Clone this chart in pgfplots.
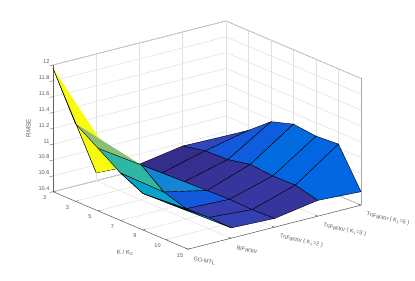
\documentclass[border=0pt]{standalone}
\usepackage{fontspec}
\setmainfont{Liberation Sans}
\usepackage{pgfplots}
\pgfplotsset{compat=1.18}
\definecolor{gridc}{gray}{0.88}
\definecolor{boxc}{gray}{0.38}
\definecolor{txtc}{gray}{0.35}
\definecolor{pyellow}{rgb}{0.9763,0.9831,0.0538}
\definecolor{pgreen}{rgb}{0.54,0.749,0.46}
\definecolor{pteal}{rgb}{0.18,0.718,0.64}
\pgfplotsset{colormap={oldparula}{
rgb=(0.2081,0.1663,0.5292) rgb=(0.2116,0.1898,0.5777) rgb=(0.2123,0.2138,0.6270) rgb=(0.2081,0.2386,0.6771)
rgb=(0.1959,0.2645,0.7279) rgb=(0.1707,0.2919,0.7792) rgb=(0.1253,0.3242,0.8303) rgb=(0.0591,0.3598,0.8683)
rgb=(0.0117,0.3875,0.8820) rgb=(0.0060,0.4086,0.8828) rgb=(0.0165,0.4266,0.8786) rgb=(0.0329,0.4430,0.8720)
rgb=(0.0498,0.4586,0.8641) rgb=(0.0629,0.4737,0.8554) rgb=(0.0723,0.4887,0.8467) rgb=(0.0779,0.5040,0.8384)
rgb=(0.0793,0.5200,0.8312) rgb=(0.0749,0.5375,0.8263) rgb=(0.0641,0.5570,0.8240) rgb=(0.0488,0.5772,0.8228)
rgb=(0.0343,0.5966,0.8199) rgb=(0.0265,0.6137,0.8135) rgb=(0.0239,0.6287,0.8038) rgb=(0.0231,0.6418,0.7913)
rgb=(0.0228,0.6535,0.7768) rgb=(0.0267,0.6642,0.7607) rgb=(0.0384,0.6743,0.7436) rgb=(0.0590,0.6838,0.7254)
rgb=(0.0843,0.6928,0.7062) rgb=(0.1133,0.7015,0.6859) rgb=(0.1453,0.7098,0.6646) rgb=(0.1801,0.7177,0.6424)
rgb=(0.2178,0.7250,0.6193) rgb=(0.2586,0.7317,0.5954) rgb=(0.3022,0.7376,0.5712) rgb=(0.3482,0.7424,0.5473)
rgb=(0.3953,0.7459,0.5244) rgb=(0.4420,0.7481,0.5033) rgb=(0.4871,0.7491,0.4840) rgb=(0.5300,0.7491,0.4661)
rgb=(0.5709,0.7485,0.4494) rgb=(0.6099,0.7473,0.4337) rgb=(0.6473,0.7456,0.4188) rgb=(0.6834,0.7435,0.4044)
rgb=(0.7184,0.7411,0.3905) rgb=(0.7525,0.7384,0.3768) rgb=(0.7858,0.7356,0.3633) rgb=(0.8185,0.7327,0.3498)
rgb=(0.8507,0.7299,0.3360) rgb=(0.8824,0.7274,0.3217) rgb=(0.9139,0.7258,0.3063) rgb=(0.9450,0.7261,0.2886)
rgb=(0.9739,0.7314,0.2666) rgb=(0.9938,0.7455,0.2403) rgb=(0.9990,0.7653,0.2164) rgb=(0.9955,0.7861,0.1967)
rgb=(0.9880,0.8066,0.1794) rgb=(0.9789,0.8271,0.1633) rgb=(0.9697,0.8481,0.1475) rgb=(0.9626,0.8705,0.1309)
rgb=(0.9589,0.8949,0.1132) rgb=(0.9598,0.9218,0.0948) rgb=(0.9661,0.9514,0.0755) rgb=(0.9763,0.9831,0.0538)
}}
\begin{document}
\begin{tikzpicture}
\begin{axis}[
  x={(22.5pt,-9.58pt)}, y={(43.25pt,11pt)}, z={(0pt,79.2pt)},
  xmin=1, xmax=7, ymin=1, ymax=5, zmin=10.4, zmax=12,
  xtick={1,2,3,4,5,6,7},
  xticklabels={2,3,5,7,9,10,15},
  ytick={1,2,3,4,5},
  yticklabels={GO-MTL,BiFactor,TriFactor ( K\textsubscript{1}=2 ),TriFactor ( K\textsubscript{1}=3 ),TriFactor ( K\textsubscript{1}=5 )},
  ztick={10.4,10.6,10.8,11,11.2,11.4,11.6,11.8,12},
  zticklabel style={/pgf/number format/fixed,/pgf/number format/assume math mode=true,yshift=2.5pt},
  xtick pos=left, ytick pos=left, ztick pos=left,
  grid=major,
  major grid style={gridc,line width=0.5pt},
  axis line style={boxc,line width=0.5pt},
  major tick length=0pt,
  tick align=inside,
  ztick align=outside,
  ticklabel style={font=\fontsize{5.6}{6.5}\selectfont,text=txtc},
  xticklabel style={anchor=center,xshift=-8pt,yshift=-6pt},
  yticklabel style={rotate=-12,anchor=west,xshift=4pt,yshift=-8pt},
  xlabel={K / K\textsubscript{2}}, ylabel={}, zlabel={RMSE},
  every axis x label/.style={at={(axis cs:6.157,-0.018,10.4)},anchor=center,font=\fontsize{6.2}{7}\selectfont,text=txtc},
  every axis z label/.style={at={(axis cs:1,0.434,11.28)},anchor=center,rotate=90,font=\fontsize{6.2}{7}\selectfont,text=txtc},
  colormap name=oldparula,
  point meta min=10.46, point meta max=11.96,
  clip=false,
]
\addplot3[surf, shader=flat corner, draw=black, line width=0.4pt, z buffer=sort, mesh/cols=7]
table[x=x,y=y,z=z,meta=m] {
x y z m
1 1 11.96 11.96
2 1 11.38 11.38
3 1 11.19 11.19
4 1 11.00 11.00
5 1 10.86 10.86
6 1 10.87 11.00
7 1 10.88 10.88

1 2 10.50 10.50
2 2 10.68 10.68
3 2 10.84 10.84
4 2 10.62 10.59
5 2 10.53 10.52
6 2 10.54 10.54
7 2 10.53 10.53

1 3 10.47 10.47
2 3 10.48 10.48
3 3 10.49 10.49
4 3 10.50 10.50
5 3 10.51 10.51
6 3 10.50 10.50
7 3 10.51 10.51

1 4 10.56 10.56
2 4 10.62 10.59
3 4 10.63 10.595
4 4 10.69 10.69
5 4 10.665 10.665
6 4 10.67 10.67
7 4 10.60 10.60

1 5 10.55 10.55
2 5 10.74 10.74
3 5 10.97 10.97
4 5 11.06 11.06
5 5 11.03 11.03
6 5 11.05 11.05
7 5 10.57 10.57
};
% the left-hand folded facets, split into triangles and stacked in the order seen
\addplot3[fill=pyellow, draw=none] coordinates {(1,1,11.96)(2,2,10.68)(1,2,10.50)} --cycle;
\addplot3[fill=pgreen, draw=none] coordinates {(2,1,11.38)(3,2,10.84)(3,1,11.19)} --cycle;
\addplot3[fill=pteal, draw=none] coordinates {(3,1,11.19)(4,1,11.00)(4,2,10.62)(3,2,10.84)} --cycle;
\addplot3[black, line width=0.4pt] coordinates {(1,2,10.50)(1,1,11.96)(2,1,11.38)(3,1,11.19)(4,1,11.00)(5,1,10.86)};
\addplot3[black, line width=0.4pt] coordinates {(3,1,11.19)(3,2,10.84)(4,2,10.62)(4,1,11.00)};
\addplot3[gray!70, line width=0.8pt] coordinates {(7,5,10.4)(7,5,12)};
% tick marks on the three labelled axis edges only
\addplot3[boxc, line width=0.4pt, empty line=jump] table {
1 1 10.4
1 1.06 10.4

2 1 10.4
2 1.06 10.4

3 1 10.4
3 1.06 10.4

4 1 10.4
4 1.06 10.4

5 1 10.4
5 1.06 10.4

6 1 10.4
6 1.06 10.4

7 1 10.4
7 1.06 10.4

7 1 10.4
6.88 1 10.4

7 2 10.4
6.88 2 10.4

7 3 10.4
6.88 3 10.4

7 4 10.4
6.88 4 10.4

7 5 10.4
6.88 5 10.4

1 1 10.4
1 0.925 10.4

1 1 10.6
1 0.925 10.6

1 1 10.8
1 0.925 10.8

1 1 11
1 0.925 11

1 1 11.2
1 0.925 11.2

1 1 11.4
1 0.925 11.4

1 1 11.6
1 0.925 11.6

1 1 11.8
1 0.925 11.8

1 1 12
1 0.925 12
};
\coordinate (o) at (axis cs:1,1,10.4);
\end{axis}
\pgfresetboundingbox
\path[use as bounding box] ([shift={(-53pt,-89.3pt)}]o) rectangle ([shift={(362pt,191.7pt)}]o);
\end{tikzpicture}
\end{document}
